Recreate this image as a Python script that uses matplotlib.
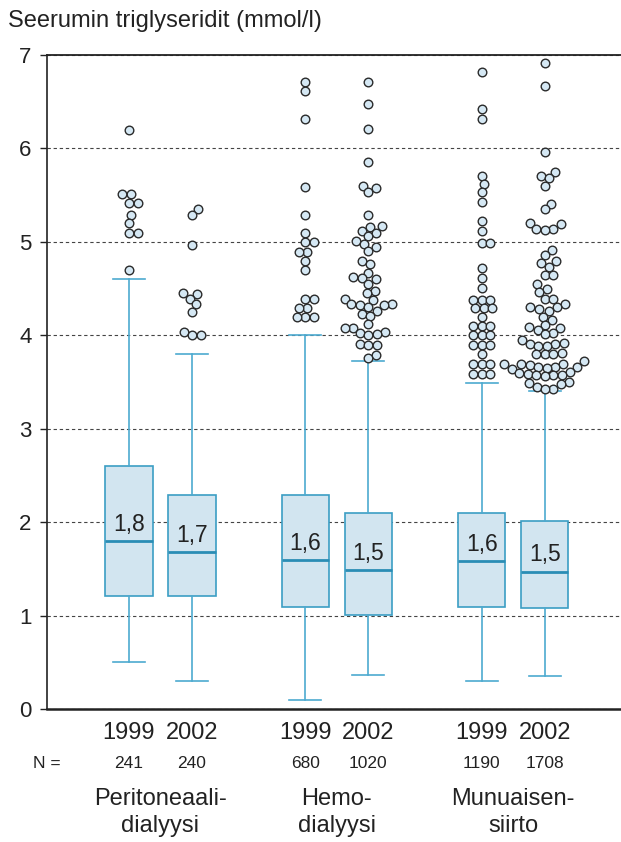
import matplotlib
matplotlib.use("Agg")
import matplotlib.pyplot as plt
import numpy as np

plt.rcParams['font.family'] = ['Liberation Sans', 'DejaVu Sans']

# ---- data -------------------------------------------------------------
group_names = ["Peritoneaali-\ndialyysi", "Hemo-\ndialyysi", "Munuaisen-\nsiirto"]
years = ["1999", "2002", "1999", "2002", "1999", "2002"]
n_counts = ["241", "240", "680", "1020", "1190", "1708"]

medians = [1.80, 1.68, 1.59, 1.49, 1.58, 1.47]
q1 = [1.21, 1.21, 1.09, 1.01, 1.09, 1.08]
q3 = [2.60, 2.29, 2.29, 2.10, 2.10, 2.01]
whisker_low = [0.50, 0.30, 0.10, 0.36, 0.30, 0.35]
whisker_high = [4.60, 3.80, 4.00, 3.72, 3.49, 3.40]

outliers_pd_1999 = [6.20, 5.51, 5.51, 5.42, 5.42, 5.29, 5.20, 5.10, 5.10, 4.70]
outliers_pd_2002 = [5.35, 5.29, 4.97, 4.45, 4.44, 4.39, 4.33, 4.25, 4.03, 4.00, 4.00]
outliers_hd_1999 = [6.71, 6.61, 6.31, 5.59, 5.29, 5.10, 5.00, 5.00, 4.89, 4.89,
                    4.80, 4.70, 4.39, 4.39, 4.29, 4.29, 4.20, 4.20, 4.20]
outliers_hd_2002 = [6.71, 6.48, 6.21, 5.86, 5.60, 5.58, 5.53, 5.29, 5.17, 5.16,
                    5.12, 5.10, 5.06, 5.01, 4.98, 4.94, 4.90, 4.80, 4.76, 4.67,
                    4.62, 4.61, 4.60, 4.55, 4.47, 4.45, 4.39, 4.38, 4.34, 4.33,
                    4.32, 4.32, 4.30, 4.26, 4.23, 4.21, 4.12, 4.08, 4.08, 4.04,
                    4.02, 4.01, 4.00, 3.91, 3.90, 3.90, 3.79, 3.76]
outliers_tx_1999 = [6.82, 6.42, 6.32, 5.71, 5.62, 5.53, 5.43, 5.22, 5.12, 4.99,
                    4.99, 4.72, 4.61, 4.51, 4.38, 4.38, 4.38, 4.29, 4.29, 4.29,
                    4.20, 4.10, 4.10, 4.10, 4.00, 4.00, 4.00, 3.90, 3.90, 3.90,
                    3.80, 3.69, 3.69, 3.69, 3.59, 3.59, 3.59]
outliers_tx_2002 = [6.91, 6.67, 5.96, 5.75, 5.70, 5.68, 5.60, 5.41, 5.35, 5.20,
                    5.19, 5.14, 5.14, 5.13, 4.91, 4.86, 4.79, 4.77, 4.73, 4.65,
                    4.65, 4.55, 4.50, 4.46, 4.39, 4.39, 4.33, 4.30, 4.30, 4.28,
                    4.26, 4.20, 4.16, 4.11, 4.09, 4.08, 4.06, 4.02, 4.01, 3.95,
                    3.92, 3.91, 3.91, 3.89, 3.89, 3.81, 3.80, 3.80, 3.80, 3.72,
                    3.69, 3.69, 3.69, 3.68, 3.66, 3.66, 3.66, 3.65, 3.64, 3.61,
                    3.60, 3.59, 3.57, 3.57, 3.57, 3.56, 3.50, 3.49, 3.48, 3.45,
                    3.43, 3.42]
outliers = [outliers_pd_1999, outliers_pd_2002, outliers_hd_1999,
            outliers_hd_2002, outliers_tx_1999, outliers_tx_2002]

# ---- layout / style ---------------------------------------------------
positions = [1.0, 2.0, 3.8, 4.8, 6.6, 7.6]
W, H, DPI = 621, 842, 100
box_face = "#d2e5f0"
box_edge = "#3b9ec4"
median_col = "#2a8db5"
whisker_col = "#4daad0"
dot_face = "#d5e8f4"
dot_edge = "#2a2a2a"

fig = plt.figure(figsize=(W / DPI, H / DPI), dpi=DPI)
ax = fig.add_axes([47 / W, 133 / H, (W - 47) / W, (709 - 55) / H])
ax.set_xlim(-0.30, 8.81)
ax.set_ylim(0, 7)

ax.set_axisbelow(True)
ax.set_yticks(range(8))
ax.yaxis.grid(True, linestyle=(0, (3, 2.5)), linewidth=0.8, color="#444444")
ax.set_xticks([])
ax.tick_params(axis="y", length=5, width=1.0, pad=6, labelsize=16,
               color="#222222", labelcolor="#222222")
ax.spines["right"].set_visible(False)
for side, lw in (("top", 1.3), ("left", 1.2), ("bottom", 1.8)):
    ax.spines[side].set_linewidth(lw)
    ax.spines[side].set_color("#222222")

stats = []
for i in range(len(positions)):
    stats.append(dict(med=medians[i], q1=q1[i], q3=q3[i],
                      whislo=whisker_low[i], whishi=whisker_high[i], fliers=[]))

ax.bxp(stats, positions=positions, widths=0.75, capwidths=0.51,
       patch_artist=True, showfliers=False, manage_ticks=False,
       boxprops=dict(facecolor=box_face, edgecolor=box_edge, linewidth=1.2),
       medianprops=dict(color=median_col, linewidth=2.0),
       whiskerprops=dict(color=whisker_col, linewidth=1.2),
       capprops=dict(color=whisker_col, linewidth=1.2))

# median labels, rounded to one decimal with a decimal comma
for x, m in zip(positions, medians):
    ax.text(x, m + 0.11, f"{m:.1f}".replace(".", ","), ha="center",
            va="baseline", fontsize=16.5, color="#222222", zorder=4)


def swarm_x(values, x0, diameter_px):
    """Beeswarm layout: nudge points sideways so circles do not overlap."""
    tr = ax.transData
    x0_px = tr.transform((x0, 0))[0]
    y_px = np.array([tr.transform((x0, v))[1] for v in values])
    placed = []
    offs = np.zeros(len(values))
    for i in np.argsort(y_px, kind="stable"):
        y = y_px[i]
        near = [(px, py) for px, py in placed if abs(py - y) < diameter_px]
        cands = [0.0]
        for px, py in near:
            dx = np.sqrt(diameter_px ** 2 - (py - y) ** 2)
            cands += [px + dx, px - dx]
        cands.sort(key=abs)
        for c in cands:
            if all((c - px) ** 2 + (y - py) ** 2 >= diameter_px ** 2 - 1e-6
                   for px, py in near):
                offs[i] = c
                break
        placed.append((offs[i], y))
    inv = tr.inverted()
    return [inv.transform((x0_px + o, 0))[0] for o in offs]


dot_px = 8.6
for x0, vals in zip(positions, outliers):
    xs = swarm_x(vals, x0, dot_px)
    ax.scatter(xs, vals, s=(dot_px * 72 / DPI) ** 2, facecolor=dot_face,
               edgecolor=dot_edge, linewidth=1.0, zorder=3, clip_on=False)

# ---- text -------------------------------------------------------------
fig.text(8 / W, 1 - 21 / H, "Seerumin triglyseridit (mmol/l)", ha="left",
         va="center", fontsize=17, color="#222222")

xt = ax.get_xaxis_transform()
ax_h = 709 - 55
for x, yr, n in zip(positions, years, n_counts):
    ax.text(x, -(733 - 709) / ax_h, yr, transform=xt, ha="center",
            va="center", fontsize=17, color="#222222")
    ax.text(x, -(763 - 709) / ax_h, n, transform=xt, ha="center",
            va="center", fontsize=12.5, color="#222222")
fig.text(33 / W, 1 - 763 / H, "N =", ha="left", va="center", fontsize=12.5,
         color="#222222")

for k, name in enumerate(group_names):
    xc = (positions[2 * k] + positions[2 * k + 1]) / 2
    ax.text(xc, -(812.5 - 709) / ax_h, name, transform=xt, ha="center",
            va="center", fontsize=17, linespacing=1.3, color="#222222")

fig.savefig("out.png", dpi=DPI)
